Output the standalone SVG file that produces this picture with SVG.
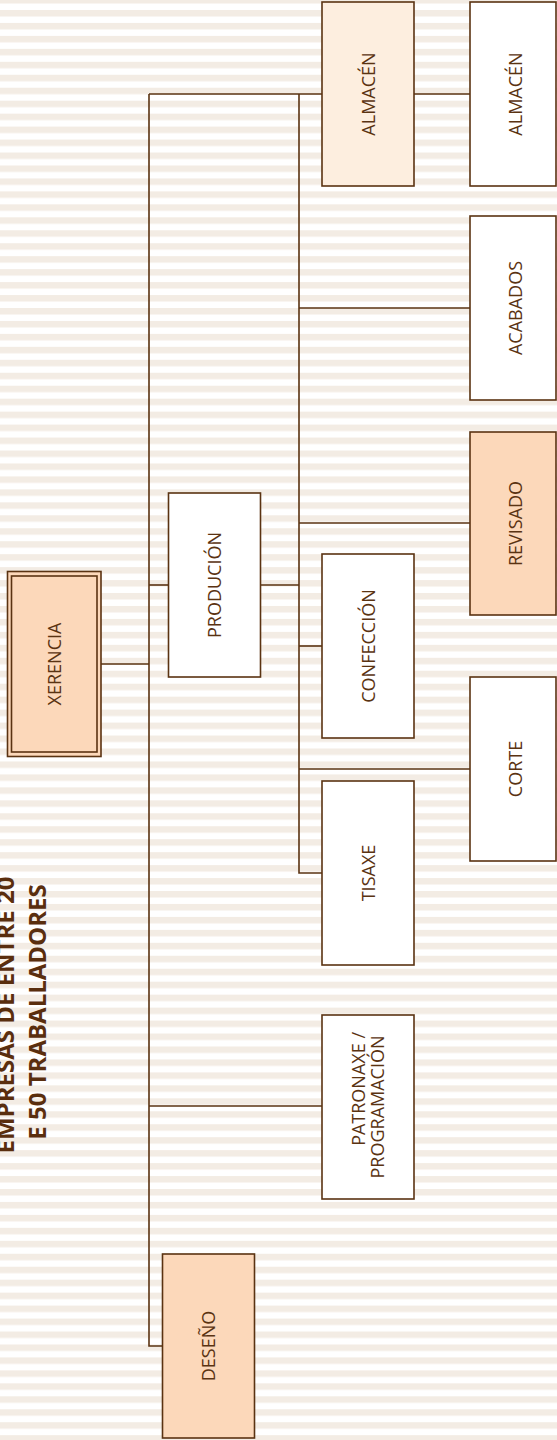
<svg xmlns="http://www.w3.org/2000/svg" width="557" height="1440" viewBox="0 0 557 1440">
<defs>
<pattern id="stripes" patternUnits="userSpaceOnUse" x="0" y="10" width="557" height="12.956">
<rect x="0" y="0" width="557" height="6.5" fill="#F3ECE4"/>
</pattern>
<style>
.box{stroke:#5A3312;stroke-width:1.6}
.w{fill:#FFFFFF}
.p{fill:#FCD8BA}
.lp{fill:#FDEEDF}
.lbl{font-family:"Open Sans","Noto Sans",sans-serif;font-size:18px;fill:#5A3312;text-anchor:middle}
.conn{stroke:#5A3312;stroke-width:1.6;fill:none}
.title{font-family:"Open Sans","Noto Sans",sans-serif;font-size:24px;font-weight:bold;fill:#5A2E0E;text-anchor:middle}
</style>
</defs>
<rect width="557" height="1440" fill="#FFFFFF"/>
<rect width="557" height="1440" fill="url(#stripes)"/>

<g id="title">
<text class="title" transform="translate(14,1015) rotate(-90)" x="0" y="0">EMPRESAS DE ENTRE 20</text>
<text class="title" transform="translate(46,1012) rotate(-90)" x="0" y="0">E 50 TRABALLADORES</text>
</g>

<g id="connectors">
<polyline class="conn" points="101,664 149,664"/>
<polyline class="conn" points="149,94 149,1346 163,1346"/>
<polyline class="conn" points="149,94 322,94"/>
<polyline class="conn" points="149,585 168,585"/>
<polyline class="conn" points="149,1106 322,1106"/>
<polyline class="conn" points="260,585 299,585"/>
<polyline class="conn" points="299,94 299,873 322,873"/>
<polyline class="conn" points="299,308 470,308"/>
<polyline class="conn" points="299,523 470,523"/>
<polyline class="conn" points="299,646 322,646"/>
<polyline class="conn" points="299,769 470,769"/>
<polyline class="conn" points="414,94 470,94"/>
</g>

<g id="xerencia">
<rect class="box p" x="7.5" y="571.5" width="93.5" height="185"/>
<rect class="box p" x="11.5" y="576" width="85.5" height="176"/>
<text class="lbl" transform="translate(54.5,664) rotate(-90)" dy="6.5">XERENCIA</text>
</g>

<g id="producion">
<rect class="box w" x="168.5" y="493" width="92" height="184"/>
<text class="lbl" transform="translate(214.5,585) rotate(-90)" dy="6.5">PRODUCIÓN</text>
</g>

<g id="almacen1">
<rect class="box lp" x="322" y="2" width="92" height="184"/>
<text class="lbl" transform="translate(368,94) rotate(-90)" dy="6.5">ALMACÉN</text>
</g>

<g id="almacen2">
<rect class="box w" x="470" y="2" width="86" height="184"/>
<text class="lbl" transform="translate(515,94) rotate(-90)" dy="6.5">ALMACÉN</text>
</g>

<g id="acabados">
<rect class="box w" x="470" y="216" width="86" height="184"/>
<text class="lbl" transform="translate(515,308) rotate(-90)" dy="6.5">ACABADOS</text>
</g>

<g id="revisado">
<rect class="box p" x="470" y="432" width="86" height="183"/>
<text class="lbl" transform="translate(515,523.5) rotate(-90)" dy="6.5">REVISADO</text>
</g>

<g id="corte">
<rect class="box w" x="470" y="677" width="86" height="184"/>
<text class="lbl" transform="translate(515,769) rotate(-90)" dy="6.5">CORTE</text>
</g>

<g id="confeccion">
<rect class="box w" x="322" y="554" width="92" height="184"/>
<text class="lbl" transform="translate(368,646) rotate(-90)" dy="6.5">CONFECCIÓN</text>
</g>

<g id="tisaxe">
<rect class="box w" x="322" y="781" width="92" height="184"/>
<text class="lbl" transform="translate(368,873) rotate(-90)" dy="6.5">TISAXE</text>
</g>

<g id="patronaxe">
<rect class="box w" x="322" y="1015" width="92" height="184"/>
<text class="lbl" transform="translate(364.5,1107) rotate(-90)" x="75" style="text-anchor:end">PATRONAXE /</text>
<text class="lbl" transform="translate(384,1107) rotate(-90)">PROGRAMACIÓN</text>
</g>

<g id="deseno">
<rect class="box p" x="162.5" y="1254" width="92" height="184"/>
<text class="lbl" transform="translate(208.5,1346) rotate(-90)" dy="6.5">DESEÑO</text>
</g>
</svg>
